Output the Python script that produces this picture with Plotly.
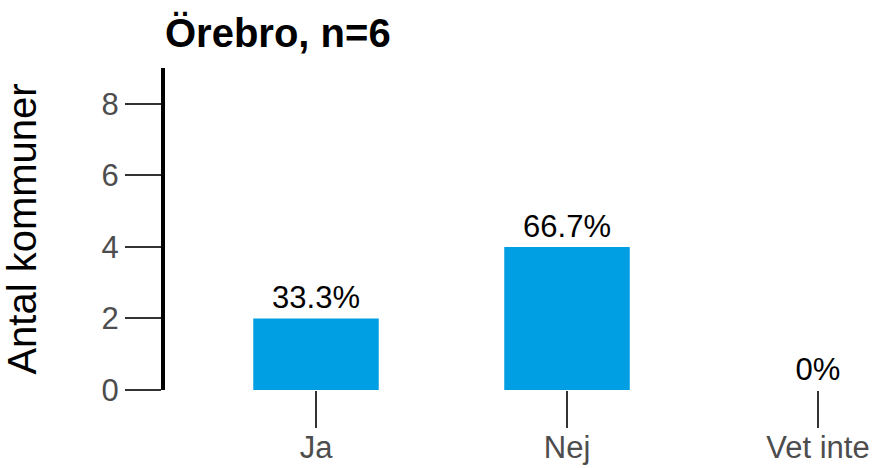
import plotly.graph_objects as go

categories = ["Ja", "Nej", "Vet inte"]
counts = [2, 4, 0]
pct_labels = ["33.3%", "66.7%", "0%"]
y_ticks = [0, 2, 4, 6, 8]
title_text = "Örebro, n=6"
y_title = "Antal kommuner"

FONT = "Liberation Sans, Arial, sans-serif"

fig = go.Figure(
    go.Bar(
        x=categories,
        y=counts,
        text=pct_labels,
        textposition="outside",
        textfont=dict(size=31, color="#000000", family=FONT),
        marker=dict(color="#009FE3", line=dict(width=0)),
        cliponaxis=False,
    )
)

W, H = 875, 468
L, T = 165, 68
B = H - 390
plot_w = W - L
spacing = 251.0
left = -(316 - L) / spacing
right = left + plot_w / spacing

fig.update_layout(
    width=W,
    height=H,
    margin=dict(l=L, r=0, t=T, b=B, pad=0, autoexpand=False),
    paper_bgcolor="white",
    plot_bgcolor="white",
    bargap=0.5,
    showlegend=False,
    font=dict(family=FONT),
    title=dict(
        text="<b>" + title_text + "</b>",
        x=0,
        xanchor="left",
        xref="paper",
        yref="container",
        y=1 - 33 / H,
        yanchor="middle",
        font=dict(size=40, color="#000000", family=FONT),
    ),
    xaxis=dict(
        range=[left, right],
        automargin=False,
        showline=False,
        showgrid=False,
        zeroline=False,
        ticks="outside",
        ticklen=37,
        tickwidth=1.5,
        tickcolor="#333333",
        ticklabelstandoff=-7,
        tickfont=dict(size=31, color="#4d4d4d", family=FONT),
    ),
    yaxis=dict(
        range=[0, 9],
        automargin=False,
        tickvals=y_ticks,
        showline=True,
        linewidth=4,
        linecolor="#000000",
        showgrid=False,
        zeroline=False,
        ticks="outside",
        ticklen=36,
        tickwidth=1.5,
        tickcolor="#333333",
        tickfont=dict(size=31, color="#4d4d4d", family=FONT),
        title=dict(text=y_title, font=dict(size=40, color="#000000", family=FONT), standoff=58),
    ),
)

fig.write_html(
    "out.html",
    config={"displayModeBar": False},
    post_script="document.body.style.margin='0';document.body.style.overflow='hidden';",
)
